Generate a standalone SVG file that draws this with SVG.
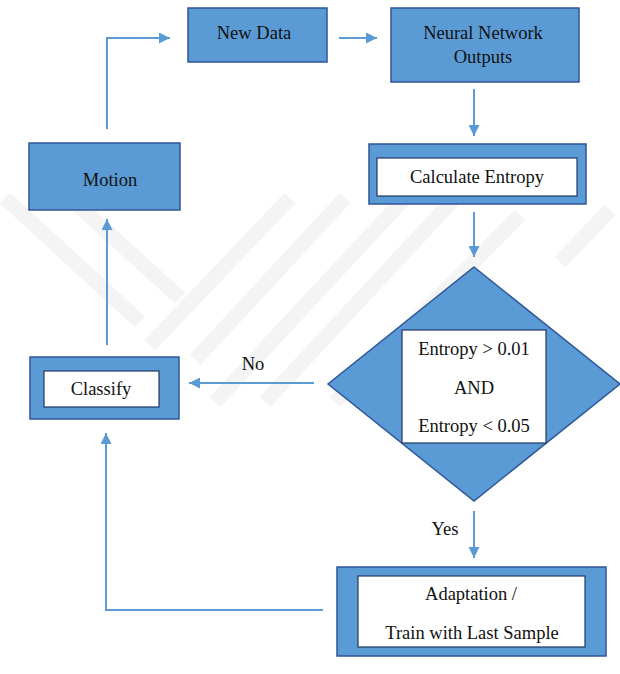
<svg xmlns="http://www.w3.org/2000/svg" width="620" height="674" viewBox="0 0 620 674">
<style>
.box{fill:#5B9BD5;stroke:#2F5597;stroke-width:1.5}
.inner{fill:#ffffff;stroke:#1F3864;stroke-width:1.2}
.t{font-family:"Liberation Serif","Times New Roman",serif;font-size:18.5px;fill:#111;text-anchor:middle}
.c{fill:none;stroke:#5B9BD5;stroke-width:2}
.wm{fill:none;stroke:#f4f4f4;stroke-width:15;stroke-linecap:butt}
</style>
<defs>
<marker id="ah" markerUnits="userSpaceOnUse" viewBox="0 0 10 10" refX="10" refY="5" markerWidth="11" markerHeight="11" orient="auto">
<path d="M0,0 L10,5 L0,10 z" fill="#5B9BD5"/>
</marker>
</defs>
<rect width="620" height="674" fill="#ffffff"/>
<g id="watermark">
<path class="wm" d="M5,198 L140,322"/>
<path class="wm" d="M70,198 L180,298"/>
<path class="wm" d="M290,198 L150,345"/>
<path class="wm" d="M345,198 L195,360"/>
<path class="wm" d="M405,198 L215,402"/>
<path class="wm" d="M455,198 L265,402"/>
<path class="wm" d="M520,215 L335,402"/>
<path class="wm" d="M610,210 L560,262"/>
</g>
<g id="connectors">
<path class="c" d="M107,129 V38 H170" marker-end="url(#ah)"/>
<path class="c" d="M339,38 H377" marker-end="url(#ah)"/>
<path class="c" d="M474,89 V136" marker-end="url(#ah)"/>
<path class="c" d="M474,212 V257" marker-end="url(#ah)"/>
<path class="c" d="M314,383 H189" marker-end="url(#ah)"/>
<path class="c" d="M474,511 V558" marker-end="url(#ah)"/>
<path class="c" d="M323,610 H106 V433" marker-end="url(#ah)"/>
<path class="c" d="M107,345 V219" marker-end="url(#ah)"/>
<text class="t" x="253" y="370">No</text>
<text class="t" x="445" y="535">Yes</text>
</g>
<g id="new-data">
<rect class="box" x="188" y="8" width="139" height="54"/>
<text class="t" x="254" y="39">New Data</text>
</g>
<g id="neural-network-outputs">
<rect class="box" x="391" y="8" width="188" height="74"/>
<text class="t" x="483" y="39">Neural Network</text>
<text class="t" x="483" y="63">Outputs</text>
</g>
<g id="motion">
<rect class="box" x="29" y="143" width="151" height="67"/>
<text class="t" x="110" y="186">Motion</text>
</g>
<g id="calculate-entropy">
<rect class="box" x="369" y="144" width="217" height="60"/>
<rect class="inner" x="377" y="158" width="200" height="38"/>
<text class="t" x="477" y="183">Calculate Entropy</text>
</g>
<g id="decision">
<polygon class="box" points="474,267 620,384 474,501 328,384"/>
<rect class="inner" x="402" y="330" width="144" height="113"/>
<text class="t" x="474" y="355">Entropy &gt; 0.01</text>
<text class="t" x="474" y="394">AND</text>
<text class="t" x="474" y="432">Entropy &lt; 0.05</text>
</g>
<g id="classify">
<rect class="box" x="30" y="357" width="149" height="62"/>
<rect class="inner" x="44" y="371" width="115" height="36"/>
<text class="t" x="101" y="395">Classify</text>
</g>
<g id="adaptation">
<rect class="box" x="337" y="567" width="269" height="89"/>
<rect class="inner" x="358" y="576" width="227" height="71"/>
<text class="t" x="471" y="600">Adaptation /</text>
<text class="t" x="472" y="639">Train with Last Sample</text>
</g>
</svg>
